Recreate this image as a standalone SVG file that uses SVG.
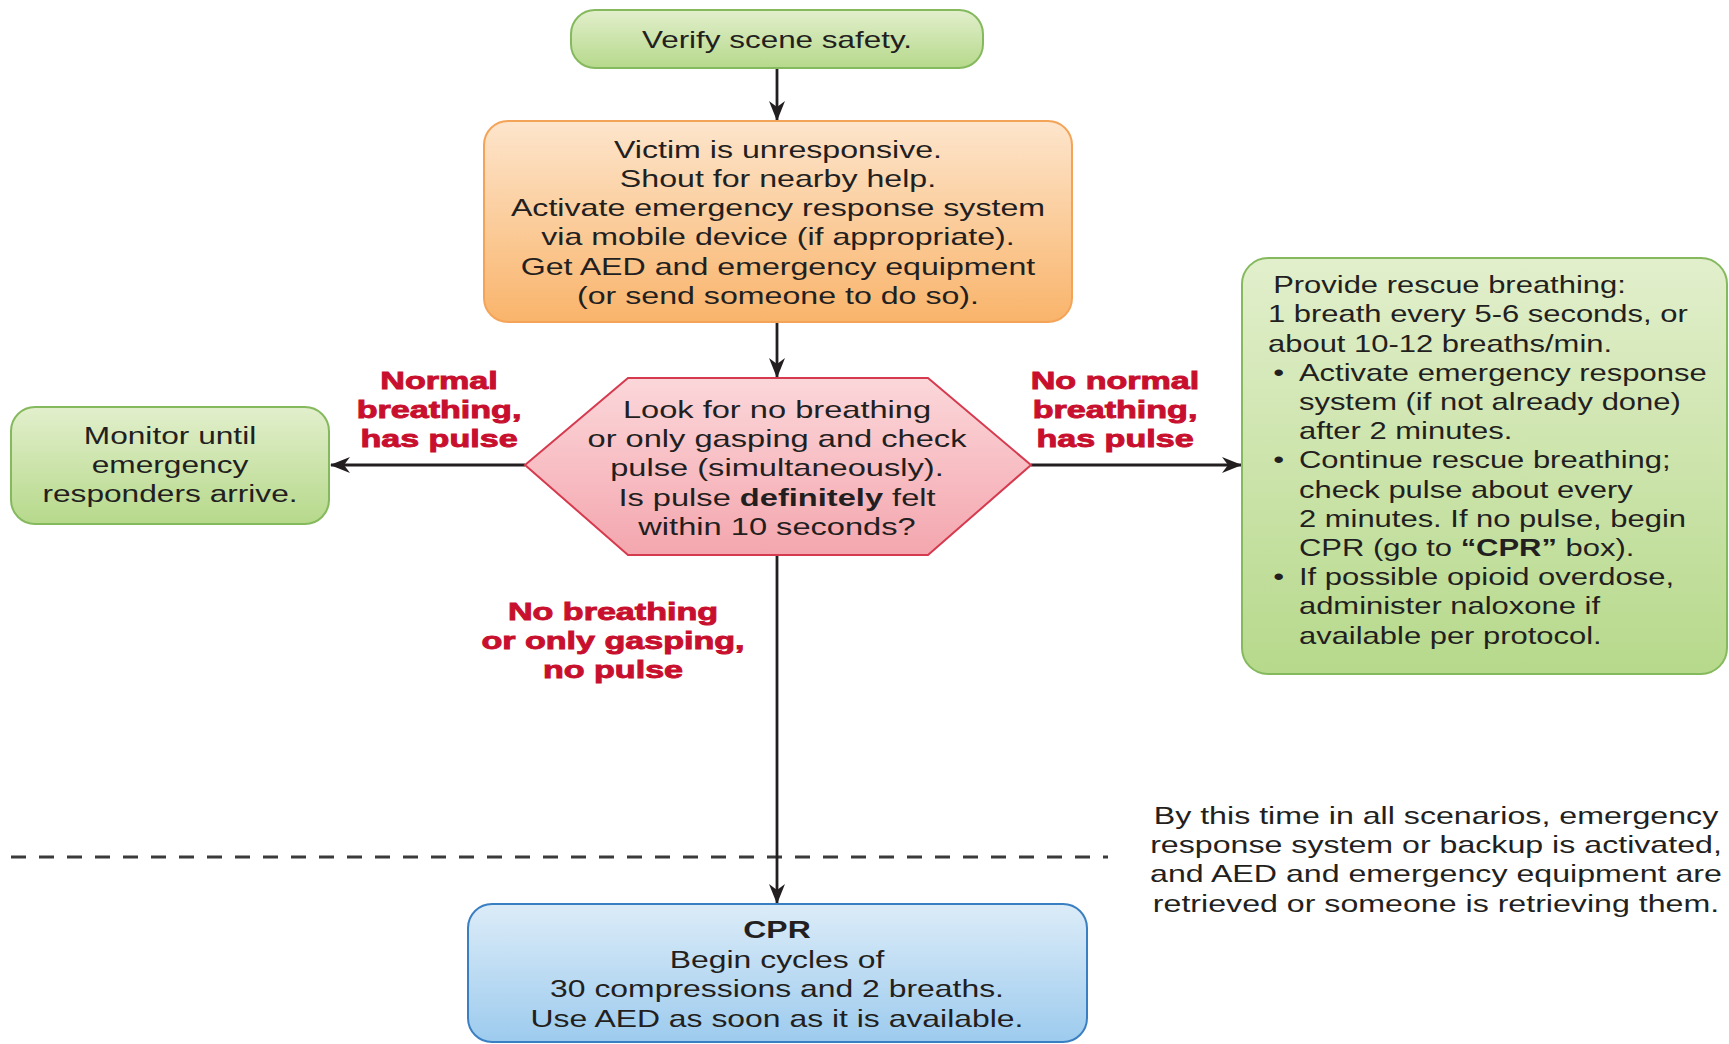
<svg xmlns="http://www.w3.org/2000/svg" width="1729" height="1044" viewBox="0 0 1729 1044">
<style>
.t{font-family:"Liberation Sans",Arial,Helvetica,sans-serif;font-size:24px;fill:#231f20;}
.c{text-anchor:middle;}
.b{font-weight:bold;}
.r{font-family:"Liberation Sans",Arial,Helvetica,sans-serif;font-size:24px;font-weight:bold;fill:#c8102e;stroke:#c8102e;stroke-width:0.9;text-anchor:middle;}
.con{stroke:#231f20;stroke-width:2.8;fill:none;marker-end:url(#ah);}
.green{fill:url(#gGreen);stroke:#85b95e;stroke-width:2;}
</style>
<defs>
<linearGradient id="gGreen" x1="0" y1="0" x2="0" y2="1"><stop offset="0" stop-color="#e2efcc"/><stop offset="1" stop-color="#b6d98b"/></linearGradient>
<linearGradient id="gOrange" x1="0" y1="0" x2="0" y2="1"><stop offset="0" stop-color="#fde5cc"/><stop offset="1" stop-color="#f9b46b"/></linearGradient>
<linearGradient id="gPink" x1="0" y1="0" x2="0" y2="1"><stop offset="0" stop-color="#fbd7da"/><stop offset="1" stop-color="#f4a6ae"/></linearGradient>
<linearGradient id="gBlue" x1="0" y1="0" x2="0" y2="1"><stop offset="0" stop-color="#dcecf8"/><stop offset="1" stop-color="#9dcbee"/></linearGradient>
<marker id="ah" viewBox="0 0 20 16" refX="19" refY="8" markerWidth="20" markerHeight="16" markerUnits="userSpaceOnUse" orient="auto"><path d="M0,0 L20,8 L0,16 L6,8 z" fill="#231f20"/></marker>
</defs>
<rect width="1729" height="1044" fill="#ffffff"/>

<line x1="11" y1="857" x2="1108" y2="857" stroke="#3a3a3a" stroke-width="3" stroke-dasharray="15 13"/>

<g id="connectors">
<line class="con" x1="777" y1="68" x2="777" y2="120"/>
<line class="con" x1="777" y1="323" x2="777" y2="377"/>
<line class="con" x1="525" y1="465" x2="331" y2="465"/>
<line class="con" x1="1031" y1="465" x2="1241" y2="465"/>
<line class="con" x1="777" y1="555" x2="777" y2="903"/>
</g>

<g id="n-verify">
<rect class="green" x="571" y="10" width="412" height="58" rx="24"/>
<g transform="translate(777,0) scale(1.31,1)"><text class="t c" x="0" y="48">Verify scene safety.</text></g>
</g>

<g id="n-unresponsive">
<rect x="484" y="121" width="588" height="201" rx="24" fill="url(#gOrange)" stroke="#f3a459" stroke-width="2"/>
<g transform="translate(778,0) scale(1.34,1)">
<text class="t c" x="0" y="158">Victim is unresponsive.</text>
<text class="t c" x="0" y="187">Shout for nearby help.</text>
<text class="t c" x="0" y="216">Activate emergency response system</text>
<text class="t c" x="0" y="245">via mobile device (if appropriate).</text>
<text class="t c" x="0" y="275">Get AED and emergency equipment</text>
<text class="t c" x="0" y="304">(or send someone to do so).</text>
</g>
</g>

<g id="n-check">
<polygon points="525,465 628,378 928,378 1031,465 928,555 628,555" fill="url(#gPink)" stroke="#d63a4f" stroke-width="2"/>
<g transform="translate(777,0) scale(1.36,1)">
<text class="t c" x="0" y="418">Look for no breathing</text>
<text class="t c" x="0" y="447">or only gasping and check</text>
<text class="t c" x="0" y="476">pulse (simultaneously).</text>
<text class="t c" x="0" y="506">Is pulse <tspan class="b">definitely</tspan> felt</text>
<text class="t c" x="0" y="535">within 10 seconds?</text>
</g>
</g>

<g id="n-monitor">
<rect class="green" x="11" y="407" width="318" height="117" rx="24"/>
<g transform="translate(170,0) scale(1.32,1)">
<text class="t c" x="0" y="444">Monitor until</text>
<text class="t c" x="0" y="473">emergency</text>
<text class="t c" x="0" y="502">responders arrive.</text>
</g>
</g>

<g id="n-rescue">
<rect class="green" x="1242" y="258" width="485" height="416" rx="26"/>
<g transform="translate(1268,0) scale(1.29,1)">
<text class="t" x="4" y="293">Provide rescue breathing:</text>
<text class="t" x="0" y="322">1 breath every 5-6 seconds, or</text>
<text class="t" x="0" y="352">about 10-12 breaths/min.</text>
<text class="t" x="4" y="381">•</text>
<text class="t" x="24" y="381">Activate emergency response</text>
<text class="t" x="24" y="410">system (if not already done)</text>
<text class="t" x="24" y="439">after 2 minutes.</text>
<text class="t" x="4" y="468">•</text>
<text class="t" x="24" y="468">Continue rescue breathing;</text>
<text class="t" x="24" y="498">check pulse about every</text>
<text class="t" x="24" y="527">2 minutes. If no pulse, begin</text>
<text class="t" x="24" y="556">CPR (go to <tspan class="b">“CPR”</tspan> box).</text>
<text class="t" x="4" y="585">•</text>
<text class="t" x="24" y="585">If possible opioid overdose,</text>
<text class="t" x="24" y="614">administer naloxone if</text>
<text class="t" x="24" y="644">available per protocol.</text>
</g>
</g>

<g id="n-cpr">
<rect x="468" y="904" width="619" height="138" rx="24" fill="url(#gBlue)" stroke="#3a7fc1" stroke-width="2"/>
<g transform="translate(777,0) scale(1.33,1)">
<text class="t c b" x="0" y="938">CPR</text>
<text class="t c" x="0" y="968">Begin cycles of</text>
<text class="t c" x="0" y="997">30 compressions and 2 breaths.</text>
<text class="t c" x="0" y="1027">Use AED as soon as it is available.</text>
</g>
</g>

<g id="labels">
<g transform="translate(439,0) scale(1.42,1)">
<text class="r" x="0" y="389">Normal</text>
<text class="r" x="0" y="418">breathing,</text>
<text class="r" x="0" y="447">has pulse</text>
</g>
<g transform="translate(1115,0) scale(1.42,1)">
<text class="r" x="0" y="389">No normal</text>
<text class="r" x="0" y="418">breathing,</text>
<text class="r" x="0" y="447">has pulse</text>
</g>
<g transform="translate(613,0) scale(1.42,1)">
<text class="r" x="0" y="620">No breathing</text>
<text class="r" x="0" y="649">or only gasping,</text>
<text class="r" x="0" y="678">no pulse</text>
</g>
</g>

<g id="note">
<g transform="translate(1436,0) scale(1.34,1)">
<text class="t c" x="0" y="824">By this time in all scenarios, emergency</text>
<text class="t c" x="0" y="853">response system or backup is activated,</text>
<text class="t c" x="0" y="882">and AED and emergency equipment are</text>
<text class="t c" x="0" y="912">retrieved or someone is retrieving them.</text>
</g>
</g>
</svg>
